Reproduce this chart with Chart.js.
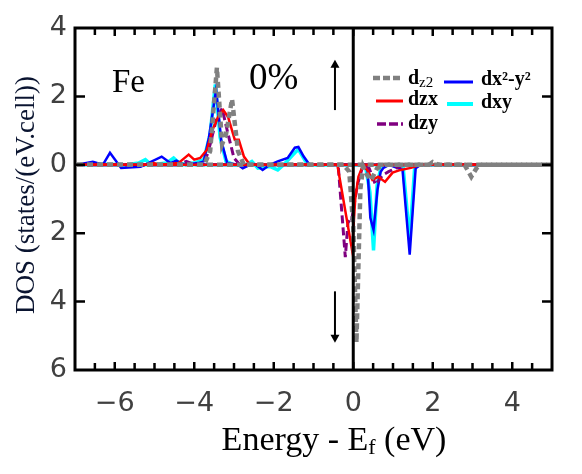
<!DOCTYPE html>
<html>
<head>
<meta charset="utf-8">
<script src="https://cdn.jsdelivr.net/npm/chart.js@4/dist/chart.umd.min.js"></script>
<style>
  body { margin: 0; background: #fff; }
  #wrap { width: 582px; height: 474px; }
</style>
</head>
<body>
<div id="wrap"><canvas id="chart" width="582" height="474"></canvas></div>
<script>
// tick values
const energyTicks = [-6, -4, -2, 0, 2, 4];
const dosTicks = [-6, -4, -2, 0, 2, 4];

// dz2 (spin up / spin down)
const dz2UpE = [-6.95, -3.75, -3.6, -3.43, -3.3, -3.2, -3.05, -2.9, -2.75, 1.9, 2.0, 2.15, 5];
const dz2Up = [0, 0, 0.4, 2.84, 0.6, 0.9, 1.92, 0.4, 0, 0, 0.08, 0, 0];
const dz2DnE = [-6.95, -0.25, -0.1, 0.0, 0.08, 0.18, 0.25, 0.35, 0.45, 0.6, 0.8, 2.8, 2.97, 3.1, 3.2, 5];
const dz2Dn = [0, 0, -0.2, -1.8, -5.2, -0.7, -0.05, -0.3, -0.45, -0.1, 0, 0, -0.35, -0.1, 0, 0];

// dzx
const dzxUpE = [-6.95, -5.2, -5.03, -4.85, -4.4, -4.14, -4.0, -3.85, -3.68, -3.55, -3.4, -3.27, -3.15, -2.98, -2.88, -2.75, -2.6, 5];
const dzxUp = [0, 0, 0.05, 0, 0.05, 0.3, 0.15, 0.2, 0.44, 1.0, 1.4, 1.6, 1.4, 0.73, 0.73, 0.24, 0, 0];
const dzxDnE = [-6.95, -0.4, -0.03, 0.05, 0.13, 0.25, 0.38, 0.48, 0.63, 0.8, 0.99, 1.19, 1.45, 1.7, 5];
const dzxDn = [0, 0, -2.49, -1.0, -0.35, 0, -0.2, -0.44, -0.35, -0.5, -0.23, -0.15, -0.09, 0, 0];

// dzy
const dzyUpE = [-6.95, -4.4, -4.2, -4.0, -3.75, -3.6, -3.45, -3.3, -3.15, -3.0, -2.85, 5];
const dzyUp = [0, 0, 0.1, 0, 0, 0.6, 1.3, 1.65, 0.9, 0.2, 0, 0];
const dzyDnE = [-6.95, -0.38, -0.2, -0.13, -0.05, 0.1, 0.25, 0.4, 0.56, 0.74, 0.89, 1.07, 1.3, 5];
const dzyDn = [0, 0, -2.7, -1.65, -1.7, -0.6, 0, -0.1, -0.58, -0.3, -0.2, -0.1, 0, 0];

// dx2-y2
const dx2y2UpE = [-6.95, -6.55, -6.3, -6.12, -5.84, -5.35, -4.82, -4.6, -4.45, -4.25, -3.9, -3.76, -3.63, -3.45, -3.32, -3.17, -2.9, -2.78, -2.6, -2.45, -2.28, -2.1, -1.9, -1.65, -1.47, -1.38, -1.25, -1.1, 5];
const dx2y2Up = [0, 0.09, 0, 0.35, -0.09, -0.06, 0.24, 0.05, 0.12, 0, 0.05, 0.1, 0.8, 2.2, 0.7, 0.05, 0, -0.1, 0, 0, -0.15, 0, 0.1, 0.2, 0.5, 0.52, 0.25, 0, 0];
const dx2y2DnE = [-6.95, 0.15, 0.25, 0.36, 0.43, 0.51, 0.61, 0.69, 0.76, 0.9, 1.24, 1.42, 1.57, 1.7, 5];
const dx2y2Dn = [0, 0, 0, -0.15, -1.55, -1.9, -0.73, -0.2, -0.09, 0, -0.15, -2.63, -0.1, 0, 0];

// dxy
const dxyUpE = [-6.95, -6.4, -5.7, -5.4, -5.23, -5.08, -4.7, -4.52, -4.35, -4.0, -3.76, -3.6, -3.47, -3.35, -3.2, -3.0, -2.7, -2.55, -2.4, -2.1, -1.9, -1.75, -1.47, -1.38, -1.2, -1.1, 5];
const dxyUp = [0, 0.02, 0, 0.05, 0.15, 0, 0.05, 0.2, 0.02, 0.05, 0.15, 0.9, 2.35, 0.8, 0.1, 0, 0, 0.1, -0.1, -0.05, -0.15, 0, 0.35, 0.45, 0.1, 0, 0];
const dxyDnE = [-6.95, 0.3, 0.42, 0.51, 0.6, 0.7, 0.8, 1.25, 1.42, 1.55, 5];
const dxyDn = [0, 0, -0.8, -2.5, -0.6, -0.05, 0, 0, -2.2, 0, 0];

const pts = (xs, ys) => xs.map((x, i) => ({ x: x, y: ys[i] }));

const GRAY = '#808080', RED = '#ff0000', PURPLE = '#800080', BLUE = '#0000ff', CYAN = '#00ffff';
const SERIF = '"Liberation Serif", "Times New Roman", "DejaVu Serif", serif';

function line(data, color, width, dash) {
  return {
    data: data,
    borderColor: color,
    borderWidth: width,
    borderDash: dash || [],
    pointRadius: 0,
    tension: 0,
    fill: false,
  };
}

// first dataset is drawn on top
const datasets = [
  line(pts(dz2UpE, dz2Up), GRAY, 4.5, [6, 4]),
  line(pts(dz2DnE, dz2Dn), GRAY, 4.5, [6, 4]),
  line(pts(dzxUpE, dzxUp), RED, 2.5),
  line(pts(dzxDnE, dzxDn), RED, 2.5),
  line(pts(dzyUpE, dzyUp), PURPLE, 3, [8, 4]),
  line(pts(dzyDnE, dzyDn), PURPLE, 3, [8, 4]),
  line(pts(dx2y2UpE, dx2y2Up), BLUE, 2.5),
  line(pts(dx2y2DnE, dx2y2Dn), BLUE, 2.5),
  line(pts(dxyUpE, dxyUp), CYAN, 3.5),
  line(pts(dxyDnE, dxyDn), CYAN, 3.5),
];

// frame, inward ticks, Ef line, arrows, labels and legend
const decor = {
  id: 'decor',
  afterDatasetsDraw(chart) {
    const { ctx, chartArea: a, scales: { x, y } } = chart;
    ctx.save();
    ctx.strokeStyle = '#000';

    // Fermi level line
    const x0 = x.getPixelForValue(0);
    ctx.lineWidth = 3;
    ctx.beginPath();
    ctx.moveTo(x0, a.top);
    ctx.lineTo(x0, a.bottom);
    ctx.stroke();

    // frame
    ctx.strokeRect(a.left, a.top, a.right - a.left, a.bottom - a.top);

    // x ticks every 0.5, top and bottom
    ctx.lineWidth = 2.5;
    for (let v = -6.5; v <= 4.6; v += 0.5) {
      const px = x.getPixelForValue(v);
      const len = Number.isInteger(v / 2) ? 8 : 7;
      ctx.beginPath();
      ctx.moveTo(px, a.bottom);
      ctx.lineTo(px, a.bottom - len);
      ctx.moveTo(px, a.top);
      ctx.lineTo(px, a.top + len);
      ctx.stroke();
    }
    // y ticks, left and right
    for (const v of [-4, -2, 0, 2]) {
      const py = y.getPixelForValue(v);
      ctx.beginPath();
      ctx.moveTo(a.left, py);
      ctx.lineTo(a.left + 10, py);
      ctx.moveTo(a.right, py);
      ctx.lineTo(a.right - 10, py);
      ctx.stroke();
    }

    // spin arrows
    const arrow = (ev, from, to) => {
      const px = x.getPixelForValue(ev);
      const p1 = y.getPixelForValue(from);
      const p2 = y.getPixelForValue(to);
      const dir = p2 < p1 ? 1 : -1;
      ctx.lineWidth = 2;
      ctx.beginPath();
      ctx.moveTo(px, p1);
      ctx.lineTo(px, p2 + dir * 6);
      ctx.stroke();
      ctx.fillStyle = '#000';
      ctx.beginPath();
      ctx.moveTo(px, p2);
      ctx.lineTo(px - 4.5, p2 + dir * 8);
      ctx.lineTo(px + 4.5, p2 + dir * 8);
      ctx.closePath();
      ctx.fill();
    };
    arrow(-0.46, 1.6, 3.07);
    arrow(-0.46, -3.7, -5.2);

    // element / strain labels
    ctx.fillStyle = '#000';
    ctx.textBaseline = 'alphabetic';
    ctx.textAlign = 'left';
    ctx.font = '33px ' + SERIF;
    ctx.fillText('Fe', 112, 92);
    ctx.font = '37px ' + SERIF;
    ctx.fillText('0%', 249, 89);

    // legend
    const sample = (x1, x2, yy, color, width, dash) => {
      ctx.strokeStyle = color;
      ctx.lineWidth = width;
      ctx.setLineDash(dash || []);
      ctx.beginPath();
      ctx.moveTo(x1, yy);
      ctx.lineTo(x2, yy);
      ctx.stroke();
      ctx.setLineDash([]);
    };
    sample(373, 402, 78, GRAY, 4.5, [7, 3]);
    sample(376, 403, 101, RED, 3);
    sample(377, 403, 124, PURPLE, 3.5, [9, 3]);
    sample(444, 473, 82, BLUE, 3);
    sample(447, 473, 104, CYAN, 4);

    ctx.fillStyle = '#000';
    ctx.textBaseline = 'middle';
    ctx.font = 'bold 20px ' + SERIF;
    ctx.fillText('d', 408, 79);
    const w = ctx.measureText('d').width;
    ctx.font = '15px ' + SERIF;
    ctx.fillText('z2', 408 + w, 83);
    ctx.font = 'bold 20px ' + SERIF;
    ctx.fillText('dzx', 408, 100);
    ctx.fillText('dzy', 408, 124);
    ctx.fillText('dx\u00b2-y\u00b2', 481, 80);
    ctx.fillText('dxy', 481, 103);

    // axis titles
    ctx.font = '27px ' + SERIF;
    ctx.fillStyle = '#0a1430';
    ctx.save();
    ctx.translate(27, 195);
    ctx.rotate(-Math.PI / 2);
    ctx.textAlign = 'center';
    ctx.fillText('DOS (states/(eV.cell))', 0, 0);
    ctx.restore();

    ctx.fillStyle = '#000';
    ctx.textAlign = 'left';
    ctx.textBaseline = 'alphabetic';
    const big = '34px ' + SERIF, small = '22px ' + SERIF;
    ctx.font = big;
    const w1 = ctx.measureText('Energy - E').width;
    const w3 = ctx.measureText(' (eV)').width;
    ctx.font = small;
    const w2 = ctx.measureText('f').width;
    const tx = 334 - (w1 + w2 + w3) / 2;
    ctx.font = big;
    ctx.fillText('Energy - E', tx, 450);
    ctx.font = small;
    ctx.fillText('f', tx + w1, 454);
    ctx.font = big;
    ctx.fillText(' (eV)', tx + w1 + w2, 450);

    ctx.restore();
  },
};

const ctx = document.getElementById('chart').getContext('2d');
const chart = new Chart(ctx, {
  type: 'line',
  data: { datasets: datasets },
  options: {
    responsive: false,
    animation: false,
    layout: { padding: { top: 28, right: 30, left: 0, bottom: 0 } },
    plugins: { legend: { display: false }, tooltip: { enabled: false } },
    scales: {
      x: {
        type: 'linear',
        min: -7,
        max: 5,
        afterBuildTicks: (s) => { s.ticks = energyTicks.map(v => ({ value: v })); },
        afterFit: (s) => { s.height = 104; },
        grid: { display: false, drawTicks: false },
        border: { display: false },
        ticks: {
          padding: 18,
          color: '#404040',
          font: { family: 'DejaVu Sans', size: 27 },
          callback: (v) => (v < 0 ? '\u2212' + Math.abs(v) : String(v)),
        },
      },
      y: {
        type: 'linear',
        min: -6,
        max: 4,
        afterBuildTicks: (s) => { s.ticks = dosTicks.map(v => ({ value: v })); },
        afterFit: (s) => { s.width = 75; },
        grid: { display: false, drawTicks: false },
        border: { display: false },
        ticks: {
          padding: 8,
          color: '#404040',
          font: { family: 'DejaVu Sans', size: 27 },
          callback: (v) => String(Math.abs(v)),
        },
      },
    },
  },
  plugins: [decor],
});
</script>
</body>
</html>
